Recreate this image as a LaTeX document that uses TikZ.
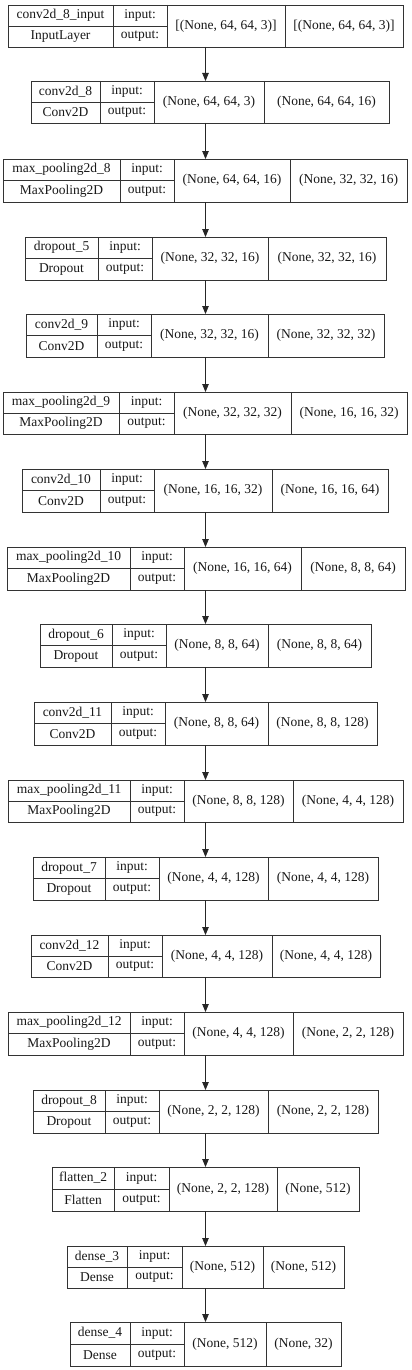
\documentclass[tikz,border=0pt]{standalone}
\usepackage{fontspec}
\setmainfont{Liberation Serif}
\usetikzlibrary{arrows.meta}
\tikzset{
  outerbox/.style={draw=black!80, line width=0.9pt, inner sep=0pt, outer sep=0pt, anchor=north west},
  cellline/.style={draw=black!80, line width=0.9pt},
  celltext/.style={inner sep=0pt, font=\fontsize{13.5}{16}\selectfont, text=black!90},
  flow/.style={draw=black!85, line width=0.9pt, -{Triangle[length=8pt,width=6.5pt]}}
}
% #1 name, #2 ytop, #3 ybot, #4..#8 x0..x4, #9 label
\newcommand{\kerasLayer}[9]{%
  \node[outerbox, minimum width={(#8-#4)*1pt}, minimum height={(#3-#2)*1pt}] (#1) at (#4,#2) {};
  \draw[cellline] (#5,#2) -- (#5,#3);
  \draw[cellline] (#6,#2) -- (#6,#3);
  \draw[cellline] (#7,#2) -- (#7,#3);
  \draw[cellline] (#4,{(#2+#3)/2}) -- (#6,{(#2+#3)/2});
  \def\kname{#9}%
  \def\kx{#4}\def\kxa{#5}\def\kxb{#6}\def\kxc{#7}\def\kxd{#8}\def\kyt{#2}\def\kyb{#3}\def\kid{#1}%
  \kerasLayerText}
% text part: #1 class, #2 in shape, #3 out shape
\newcommand{\kerasLayerText}[3]{%
  \node[celltext] (\kid-name) at ({(\kx+\kxa)/2},{\kyt+(\kyb-\kyt)/4}) {\kname};
  \node[celltext] (\kid-class) at ({(\kx+\kxa)/2},{\kyt+3*(\kyb-\kyt)/4}) {#1};
  \node[celltext] (\kid-inl) at ({(\kxa+\kxb)/2},{\kyt+(\kyb-\kyt)/4}) {input:};
  \node[celltext] (\kid-outl) at ({(\kxa+\kxb)/2},{\kyt+3*(\kyb-\kyt)/4}) {output:};
  \node[celltext] (\kid-in) at ({(\kxb+\kxc)/2},{(\kyt+\kyb)/2}) {#2};
  \node[celltext] (\kid-out) at ({(\kxc+\kxd)/2},{(\kyt+\kyb)/2}) {#3};
}
\begin{document}
\begin{tikzpicture}[x=1pt,y=-1pt]
\fill[white] (0,0) rectangle (412,1370);
\useasboundingbox (0,0) rectangle (412,1370);
\coordinate (axis) at (205.5,0);

\kerasLayer{L1}{5}{47}{8}{113}{167}{285}{403}{conv2d\_8\_input}{InputLayer}{[(None, 64, 64, 3)]}{[(None, 64, 64, 3)]}
\kerasLayer{L2}{81}{123}{31}{100}{154}{264}{389}{conv2d\_8}{Conv2D}{(None, 64, 64, 3)}{(None, 64, 64, 16)}
\kerasLayer{L3}{159}{202}{3}{120}{174}{290}{407}{max\_pooling2d\_8}{MaxPooling2D}{(None, 64, 64, 16)}{(None, 32, 32, 16)}
\kerasLayer{L4}{237}{280}{25}{98}{152}{268}{386}{dropout\_5}{Dropout}{(None, 32, 32, 16)}{(None, 32, 32, 16)}
\kerasLayer{L5}{314}{357}{26}{97}{151}{268}{384}{conv2d\_9}{Conv2D}{(None, 32, 32, 16)}{(None, 32, 32, 32)}
\kerasLayer{L6}{392}{434}{3}{119}{174}{291}{407}{max\_pooling2d\_9}{MaxPooling2D}{(None, 32, 32, 32)}{(None, 16, 16, 32)}
\kerasLayer{L7}{469}{512}{22}{100}{154}{272}{388}{conv2d\_10}{Conv2D}{(None, 16, 16, 32)}{(None, 16, 16, 64)}
\kerasLayer{L8}{547}{590}{7}{130}{184}{301}{405}{max\_pooling2d\_10}{MaxPooling2D}{(None, 16, 16, 64)}{(None, 8, 8, 64)}
\kerasLayer{L9}{624}{667}{40}{112}{166}{268}{371}{dropout\_6}{Dropout}{(None, 8, 8, 64)}{(None, 8, 8, 64)}
\kerasLayer{L10}{702}{745}{34}{111}{165}{268}{377}{conv2d\_11}{Conv2D}{(None, 8, 8, 64)}{(None, 8, 8, 128)}
\kerasLayer{L11}{780}{822}{8}{130}{184}{293}{403}{max\_pooling2d\_11}{MaxPooling2D}{(None, 8, 8, 128)}{(None, 4, 4, 128)}
\kerasLayer{L12}{857}{900}{33}{105}{159}{268}{378}{dropout\_7}{Dropout}{(None, 4, 4, 128)}{(None, 4, 4, 128)}
\kerasLayer{L13}{935}{977}{31}{108}{162}{272}{380}{conv2d\_12}{Conv2D}{(None, 4, 4, 128)}{(None, 4, 4, 128)}
\kerasLayer{L14}{1012}{1055}{8}{130}{184}{293}{403}{max\_pooling2d\_12}{MaxPooling2D}{(None, 4, 4, 128)}{(None, 2, 2, 128)}
\kerasLayer{L15}{1090}{1133}{33}{105}{159}{268}{378}{dropout\_8}{Dropout}{(None, 2, 2, 128)}{(None, 2, 2, 128)}
\kerasLayer{L16}{1167}{1211}{52}{114}{169}{277}{359}{flatten\_2}{Flatten}{(None, 2, 2, 128)}{(None, 512)}
\kerasLayer{L17}{1246}{1288}{67}{127}{182}{263}{344}{dense\_3}{Dense}{(None, 512)}{(None, 512)}
\kerasLayer{L18}{1322}{1366}{70}{130}{184}{266}{341}{dense\_4}{Dense}{(None, 512)}{(None, 32)}

\foreach \a/\b in {L1/L2,L2/L3,L3/L4,L4/L5,L5/L6,L6/L7,L7/L8,L8/L9,L9/L10,L10/L11,L11/L12,L12/L13,L13/L14,L14/L15,L15/L16,L16/L17,L17/L18}
  \draw[flow] (\a.south -| axis) -- (\b.north -| axis);
\end{tikzpicture}
\end{document}
